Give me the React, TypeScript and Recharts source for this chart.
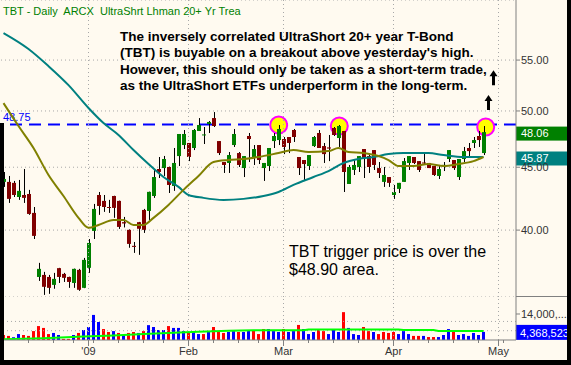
import React from 'react';
import { ComposedChart, Bar, Line, XAxis, YAxis, CartesianGrid, ReferenceLine, ReferenceDot, Cell } from 'recharts';

// trading days shown on the chart (Dec 2008 - early May 2009)
const monthDays: [string, number[]][] = [
  ['Dec', [8, 9, 10, 11, 12, 15, 16, 17, 18, 19, 22, 23, 24, 26, 29, 30, 31]],
  ['Jan', [2, 5, 6, 7, 8, 9, 12, 13, 14, 15, 16, 20, 21, 22, 23, 26, 27, 28, 29, 30]],
  ['Feb', [2, 3, 4, 5, 6, 9, 10, 11, 12, 13, 17, 18, 19, 20, 23, 24, 25, 26, 27]],
  ['Mar', [2, 3, 4, 5, 6, 9, 10, 11, 12, 13, 16, 17, 18, 19, 20, 23, 24, 25, 26, 27, 30, 31]],
  ['Apr', [1, 2, 3, 6, 7, 8, 9, 13, 14, 15, 16, 17, 20, 21, 22, 23, 24, 27, 28, 29, 30]],
  ['May', [1, 4, 5, 6]],
];
const days = monthDays.flatMap(([m, ds]) => ds.map((d) => `${m} ${d}`));

const opens = [
  43.78, 43.78, 43.7, 42.56, 42.72, 42.8, 41.31, 36.64, 36.78, 36.64,
  36.1, 37.25, 36.85, 36.64, 36.23, 37.13, 35.9, 37.27, 39.94, 42.72,
  42.25, 41.77, 42.64, 42.25, 40.6, 40.02, 38.84, 40.6, 41.54, 41.46,
  42.64, 44.85, 44.93, 45.02, 43.45, 45.95, 46.91, 47.09, 46.65, 48.16,
  47.8, 48.8, 49.34, 47.26, 45.44, 45.36, 46.91, 46.21, 44.93, 47.71,
  45.87, 46.91, 44.93, 45.1, 47.26, 47.35, 47.44, 47.62, 48.25, 45.87,
  45.61, 45.1, 46.82, 47.98, 46.82, 46.7, 48.43, 47.53, 48.16, 43.61,
  44.77, 45.02, 46.56, 45.95, 46.47, 44.93, 43.78, 44.18, 42.72, 43.21,
  43.78, 45.36, 45.87, 45.52, 45.4, 45.36, 45.1, 44.27, 45.1, 45.7,
  45.61, 44.18, 45.7, 46.65, 47.09, 47.71, 46.21,
];
const highs = [
  44.6, 44.27, 43.86, 43.94, 44.85, 43.13, 41.77, 37.62, 36.99, 36.78,
  36.92, 37.27, 36.92, 36.66, 37.22, 37.2, 37.97, 39.34, 42.01, 42.96,
  42.72, 42.33, 42.66, 42.27, 41.0, 40.05, 39.12, 40.62, 41.62, 42.99,
  44.77, 45.87, 45.96, 45.05, 46.65, 47.89, 48.25, 47.09, 48.34, 49.34,
  48.52, 49.07, 49.9, 47.26, 45.44, 46.3, 48.34, 46.3, 45.95, 47.98,
  46.91, 46.91, 45.36, 46.65, 47.98, 48.7, 47.62, 47.62, 48.34, 45.87,
  45.61, 46.04, 47.71, 48.25, 47.09, 47.8, 48.52, 48.7, 48.16, 45.19,
  45.61, 45.95, 46.56, 46.21, 46.47, 45.44, 45.02, 44.18, 43.53, 43.7,
  45.78, 45.95, 45.87, 45.52, 46.21, 45.36, 45.1, 45.19, 45.44, 46.47,
  45.61, 45.7, 46.74, 47.09, 47.62, 48.16, 48.61,
];
const lows = [
  43.37, 42.09, 42.56, 42.33, 42.09, 41.16, 39.34, 36.37, 35.43, 35.5,
  35.84, 36.23, 36.3, 35.9, 35.9, 35.7, 35.88, 36.92, 39.34, 41.16,
  41.39, 41.31, 40.93, 40.09, 40.2, 38.7, 38.33, 38.19, 39.79, 40.77,
  42.49, 44.1, 44.27, 42.88, 43.05, 45.1, 46.56, 45.52, 46.47, 48.16,
  47.0, 47.98, 48.52, 46.04, 44.52, 44.52, 46.74, 45.02, 44.18, 45.44,
  45.19, 45.27, 43.86, 44.68, 46.65, 46.91, 46.12, 46.21, 47.18, 44.35,
  43.86, 44.77, 46.74, 46.65, 45.36, 45.52, 47.71, 46.74, 42.96, 43.61,
  44.35, 44.6, 44.1, 44.52, 44.77, 44.1, 43.37, 43.37, 42.41, 42.88,
  43.78, 44.77, 45.27, 44.6, 45.27, 44.93, 44.27, 44.02, 44.68, 45.44,
  44.77, 43.94, 45.44, 45.95, 46.65, 46.74, 46.04,
];
const closes = [
  44.02, 42.41, 42.72, 43.05, 42.49, 41.23, 39.57, 37.2, 35.97, 35.9,
  36.51, 36.64, 36.58, 36.3, 37.2, 35.77, 37.83, 39.05, 41.62, 41.85,
  41.77, 41.7, 41.7, 40.24, 40.5, 38.98, 38.76, 40.1, 40.02, 42.97,
  44.18, 44.6, 45.7, 43.53, 45.36, 47.89, 47.89, 45.87, 48.25, 48.7,
  47.85, 48.98, 48.61, 46.21, 45.19, 46.04, 47.89, 45.19, 45.95, 47.44,
  46.56, 45.61, 45.36, 46.65, 47.71, 48.34, 46.74, 47.09, 47.62, 44.93,
  45.27, 46.04, 47.62, 46.65, 46.12, 46.6, 47.8, 48.61, 44.6, 45.02,
  45.19, 45.95, 45.78, 45.02, 45.19, 44.52, 44.35, 43.7, 42.96, 43.7,
  45.52, 45.95, 45.36, 44.77, 45.35, 44.93, 44.35, 44.85, 45.2, 46.47,
  44.93, 45.7, 46.38, 46.38, 47.35, 47.35, 48.06,
];
// volume in millions of shares
const volumesM = [
  2.7, 2.2, 1.5, 3.2, 2.7, 2.2, 4.8, 7.5, 6.5, 3.2,
  3.8, 2.7, 0.6, 0.6, 2.7, 3.8, 5.4, 7.0, 13.5, 9.7,
  5.9, 4.3, 4.8, 3.8, 2.7, 3.8, 4.3, 3.8, 4.8, 8.0,
  7.0, 5.4, 5.4, 7.5, 6.5, 6.5, 4.8, 4.3, 4.8, 3.2,
  3.2, 4.3, 7.0, 4.8, 3.8, 4.3, 4.8, 4.3, 4.3, 5.4,
  5.4, 3.2, 5.9, 5.9, 4.8, 4.3, 5.9, 4.3, 4.8, 8.1,
  5.9, 3.2, 4.3, 5.9, 4.8, 3.2, 5.4, 4.3, 15.0, 6.5,
  3.2, 2.7, 7.0, 4.8, 4.3, 3.2, 4.3, 3.8, 4.3, 3.2,
  4.8, 3.2, 2.2, 2.2, 2.2, 1.6, 1.6, 1.6, 2.7, 5.9,
  4.8, 2.7, 3.2, 2.2, 3.8, 2.7, 4.368523,
];
const closeBefore = 44.8; // close of the day before the first bar

// moving averages
const ma50: [string, number][] = [
  ['Dec 8', 57.85], ['Dec 15', 56.15], ['Dec 19', 54.38], ['Dec 26', 52.48], ['Jan 2', 50.28],
  ['Jan 7', 48.88], ['Jan 12', 47.8], ['Jan 15', 46.47], ['Jan 21', 45.27], ['Jan 26', 44.18],
  ['Jan 29', 43.37], ['Feb 2', 42.72], ['Feb 5', 42.49], ['Feb 11', 42.33], ['Feb 18', 42.41],
  ['Feb 24', 42.64], ['Feb 27', 42.96], ['Mar 4', 43.53], ['Mar 10', 44.18], ['Mar 13', 44.68],
  ['Mar 18', 45.36], ['Mar 23', 45.7], ['Mar 26', 45.87], ['Mar 31', 46.12], ['Apr 3', 46.21],
  ['Apr 13', 46.21], ['Apr 16', 46.04], ['Apr 22', 45.87], ['Apr 28', 45.87],
];
const ma20: [string, number][] = [
  ['Dec 8', 50.74], ['Dec 11', 48.61], ['Dec 16', 46.65], ['Dec 19', 44.35], ['Dec 24', 42.64],
  ['Dec 30', 40.93], ['Jan 2', 40.17], ['Jan 6', 40.39], ['Jan 9', 40.77], ['Jan 13', 40.77],
  ['Jan 15', 40.39], ['Jan 20', 40.39], ['Jan 22', 40.93], ['Jan 27', 41.93], ['Jan 30', 43.13],
  ['Feb 4', 44.27], ['Feb 9', 45.44], ['Feb 12', 45.61], ['Feb 18', 45.7], ['Feb 23', 45.87],
  ['Feb 27', 46.21], ['Mar 4', 46.47], ['Mar 9', 46.3], ['Mar 13', 46.38], ['Mar 17', 46.65],
  ['Mar 19', 46.3], ['Mar 24', 46.21], ['Mar 27', 45.95], ['Mar 31', 45.61], ['Apr 2', 45.1],
  ['Apr 7', 45.1], ['Apr 13', 45.27], ['Apr 16', 45.1], ['Apr 21', 45.27], ['Apr 24', 45.52],
  ['Apr 28', 45.87],
];
const volMa: [string, number][] = [
  ['Dec 8', 0.4], ['Dec 18', 1.0], ['Dec 31', 1.9], ['Jan 9', 2.4], ['Jan 20', 3.2],
  ['Jan 28', 3.9], ['Feb 4', 4.5], ['Feb 12', 5.0], ['Feb 20', 5.2], ['Mar 6', 5.3],
  ['Mar 9', 5.7], ['Apr 2', 5.7], ['Apr 3', 5.4], ['Apr 14', 5.4], ['Apr 15', 4.8], ['Apr 28', 4.8],
];

const priceTicks = [40, 45, 50, 55];
const volTicks = [5000000, 14000000];
const monthLabels: Record<string, string> = { 'Jan 2': "'09", 'Feb 2': 'Feb', 'Mar 2': 'Mar', 'Apr 1': 'Apr', 'May 1': 'May' };
const weekStarts = ['Dec 8', 'Dec 15', 'Dec 22', 'Dec 29', 'Jan 5', 'Jan 12', 'Jan 20', 'Jan 26', 'Feb 9', 'Feb 17',
  'Feb 23', 'Mar 9', 'Mar 16', 'Mar 23', 'Mar 30', 'Apr 6', 'Apr 13', 'Apr 20', 'Apr 27', 'May 4'];
const triggerLevel = 48.75;
const highlights: [string, number][] = [['Feb 27', 48.7], ['Mar 17', 48.61], ['Apr 28', 48.52]];
const arrowMarks: [string, number][] = [['Apr 29', 50.79], ['Apr 30', 53.22]];

const GREEN = '#008000';
const MAROON = '#800000';
const TEAL = '#008080';
const OLIVE = '#808000';
const GRID = '#a8a8a8';
const PRICE_DOMAIN: [number, number] = [35.29, 61.55];

const ma50Map = new Map(ma50);
const ma20Map = new Map(ma20);
const volMaMap = new Map(volMa);

const rows = days.map((day, i) => {
  const has = highs[i] != null;
  const prev = i === 0 ? closeBefore : closes[i - 1];
  return {
    day,
    o: opens[i], h: highs[i], l: lows[i], c: closes[i],
    range: has ? [lows[i], highs[i]] : null,
    vol: volumesM[i] != null ? Math.round(volumesM[i] * 1e6) : null,
    up: has ? closes[i] >= prev : true,
    ma50: ma50Map.get(day) ?? null,
    ma20: ma20Map.get(day) ?? null,
    vma: volMaMap.has(day) ? volMaMap.get(day)! * 1e6 : null,
  };
});

const lastClose = closes[closes.length - 1];
const lastMa50 = ma50[ma50.length - 1][1];
const lastVol = Math.round(volumesM[volumesM.length - 1] * 1e6);

const Candle = (props: any) => {
  const { x, y, width, height, payload } = props;
  if (!payload || payload.o == null) return null;
  const top = Math.min(y, y + height);
  const bot = Math.max(y, y + height);
  const lh = Math.log(payload.h);
  const ll = Math.log(payload.l);
  const span = lh - ll || 1;
  const yAt = (v: number) => top + ((bot - top) * (lh - Math.log(v))) / span;
  const bx = Math.round(x);
  const bw = Math.round(width);
  const yo = yAt(payload.o);
  const yc = yAt(payload.c);
  const bodyTop = Math.min(yo, yc);
  const bodyH = Math.max(1, Math.abs(yo - yc));
  return (
    <g>
      <rect x={bx + Math.floor(bw / 2)} y={top} width={1} height={Math.max(1, bot - top)} fill="#000" />
      <rect x={bx} y={bodyTop} width={bw} height={bodyH} fill={payload.c >= payload.o ? GREEN : MAROON} />
    </g>
  );
};

const priceTag = (text: string, bg: string) => (props: any) => {
  const vb = props.viewBox || {};
  const left = vb.x + vb.width;
  return (
    <g>
      <rect x={left} y={vb.y - 5.5} width={52} height={14} fill={bg} />
      <text x={left + 5} y={vb.y + 5} fill="#ffffff" fontSize={11}>{text}</text>
    </g>
  );
};

const triggerLabel = (props: any) => {
  const vb = props.viewBox || {};
  return <text x={vb.x + 2} y={vb.y - 3} fill="#0000ff" fontSize={11}>{triggerLevel.toFixed(2)}</text>;
};

const Arrow = (props: any) => {
  const { cx, cy } = props;
  const t = cy - 7.5;
  const pts = [[cx, t], [cx + 4, t + 6], [cx + 1.5, t + 6], [cx + 1.5, t + 15], [cx - 1.5, t + 15], [cx - 1.5, t + 6], [cx - 4, t + 6]];
  return <polygon points={pts.map((p) => p.join(',')).join(' ')} fill="#000" />;
};

const DateTick = (props: any) => {
  const { x, y, payload } = props;
  const label = monthLabels[payload.value];
  return (
    <g>
      <line x1={x} x2={x} y1={y} y2={y + (label ? 6 : 3)} stroke="#808080" />
      {label && (
        <text x={x} y={y + 15} textAnchor="middle" fontSize={11} fill="#333">{label}</text>
      )}
    </g>
  );
};

const fmtVol = (v: number) => {
  const s = v.toLocaleString('en-US');
  return s.slice(0, s.indexOf(',') + 5) + '...';
};

const axisTicks = days.filter((d) => monthLabels[d] || weekStarts.includes(d));
const monthStarts = Object.keys(monthLabels);

// price-panel frame shared by the underlay (highlights) and the main chart
const chartProps = { width: 567, height: 297, data: rows, margin: { top: 0, right: 0, bottom: 0, left: 1 } };

export default function App() {
  return (
    <div style={{ position: 'absolute', left: 0, top: 0, width: 571, height: 365, background: '#FFFAF0', overflow: 'hidden', fontFamily: '"Liberation Sans", Arial, sans-serif' }}>
      {/* underlay: highlight circles and the trigger line sit beneath the candles */}
      <div style={{ position: 'absolute', left: 0, top: 0 }}>
        <ComposedChart {...chartProps}>
          <XAxis dataKey="day" hide />
          <YAxis orientation="right" width={51} scale="log" domain={PRICE_DOMAIN} allowDataOverflow ticks={priceTicks} tick={false} tickLine={false} axisLine={false} />
          {highlights.map(([d, v]) => (
            <ReferenceDot key={d} x={d} y={v} r={8.5} fill="#ffff00" stroke="#ff00ff" strokeWidth={2} />
          ))}
          <ReferenceLine y={triggerLevel} stroke="#0000ff" strokeWidth={2} strokeDasharray="12 7" label={triggerLabel} />
        </ComposedChart>
      </div>
      <div style={{ position: 'absolute', left: 0, top: 0 }}>
        <ComposedChart {...chartProps}>
          <CartesianGrid vertical={false} stroke={GRID} strokeDasharray="1 3" />
          <XAxis dataKey="day" hide />
          <YAxis
            orientation="right"
            width={51}
            scale="log"
            domain={PRICE_DOMAIN}
            allowDataOverflow
            ticks={priceTicks}
            tickFormatter={(v: number) => v.toFixed(2)}
            tick={{ fill: '#333', fontSize: 11 }}
            tickSize={4}
            tickMargin={1}
            axisLine={{ stroke: '#808080' }}
            tickLine={{ stroke: '#808080' }}
          />
          {monthStarts.map((d) => (
            <ReferenceLine key={d} x={d} stroke={GRID} strokeDasharray="1 3" />
          ))}
          <Line dataKey="ma50" type="monotone" stroke={TEAL} strokeWidth={2} dot={false} connectNulls isAnimationActive={false} />
          <Line dataKey="ma20" type="monotone" stroke={OLIVE} strokeWidth={2} dot={false} connectNulls isAnimationActive={false} />
          <Bar dataKey="range" barSize={4} shape={Candle} isAnimationActive={false} />
          <ReferenceLine y={lastClose} stroke="none" label={priceTag(lastClose.toFixed(2), GREEN)} />
          <ReferenceLine y={lastMa50} stroke="none" label={priceTag(lastMa50.toFixed(2), TEAL)} />
          {arrowMarks.map(([d, v]) => (
            <ReferenceDot key={d} x={d} y={v} r={1} shape={Arrow} />
          ))}
        </ComposedChart>
      </div>
      <div style={{ position: 'absolute', left: 0, top: 297 }}>
        <ComposedChart width={567} height={63} data={rows} margin={{ top: 0, right: 0, bottom: 0, left: 1 }}>
          <XAxis
            dataKey="day"
            height={20}
            interval={0}
            ticks={axisTicks}
            tick={DateTick}
            tickLine={false}
            tickSize={0}
            tickMargin={0}
            axisLine={{ stroke: '#808080' }}
          />
          <YAxis
            orientation="right"
            width={51}
            domain={[0, 23150000]}
            allowDataOverflow
            ticks={volTicks}
            tickFormatter={fmtVol}
            tick={{ fill: '#333', fontSize: 11 }}
            tickSize={4}
            tickMargin={1}
            axisLine={{ stroke: '#808080' }}
            tickLine={{ stroke: '#808080' }}
          />
          <ReferenceLine y={5000000} stroke={GRID} strokeDasharray="1 3" />
          <ReferenceLine y={10000000} stroke={GRID} strokeDasharray="1 3" />
          {monthStarts.map((d) => (
            <ReferenceLine key={d} x={d} stroke={GRID} strokeDasharray="1 3" />
          ))}
          <Bar dataKey="vol" barSize={3} isAnimationActive={false}>
            {rows.map((r) => (
              <Cell key={r.day} fill={r.up ? '#0000ff' : '#ff0000'} />
            ))}
          </Bar>
          <Line dataKey="vma" type="linear" stroke="#00ff00" strokeWidth={2} dot={false} connectNulls isAnimationActive={false} />
          <ReferenceLine y={lastVol} stroke="none" label={(props: any) => {
            const vb = props.viewBox || {};
            const left = vb.x + vb.width;
            return (
              <g>
                <rect x={left} y={vb.y - 7} width={52} height={15} fill="#0000ff" />
                <text x={left + 4} y={vb.y + 5} fill="#ffffff" fontSize={11}>{lastVol.toLocaleString('en-US')}</text>
              </g>
            );
          }} />
        </ComposedChart>
      </div>
      <div style={{ position: 'absolute', left: 516, top: 296, width: 51, height: 1, background: '#808080' }} />
      <div style={{ position: 'absolute', left: 3, top: 6, fontSize: 11, lineHeight: '11px', color: GREEN, whiteSpace: 'pre' }}>
        {'TBT - Daily  ARCX  UltraShrt Lhman 20+ Yr Trea'}
      </div>
      <div style={{ position: 'absolute', left: 120, top: 29, fontSize: 13.5, lineHeight: '16.3px', fontWeight: 'bold', color: '#000', whiteSpace: 'pre' }}>
        {"The inversely correlated UltraShort 20+ year T-Bond\n(TBT) is buyable on a breakout above yesterday's high.\nHowever, this should only be taken as a short-term trade,\nas the UltraShort ETFs underperform in the long-term."}
      </div>
      <div style={{ position: 'absolute', left: 289, top: 243, fontSize: 16, lineHeight: '18px', color: '#000', whiteSpace: 'pre' }}>
        {'TBT trigger price is over the\n$48.90 area.'}
      </div>
      <div style={{ position: 'absolute', left: 567, top: 0, width: 4, height: 365, background: '#000' }} />
      <div style={{ position: 'absolute', left: 0, top: 360, width: 571, height: 5, background: '#000' }} />
      <div style={{ position: 'absolute', left: 0, top: 123, width: 4, height: 242, background: '#000' }} />
    </div>
  );
}
